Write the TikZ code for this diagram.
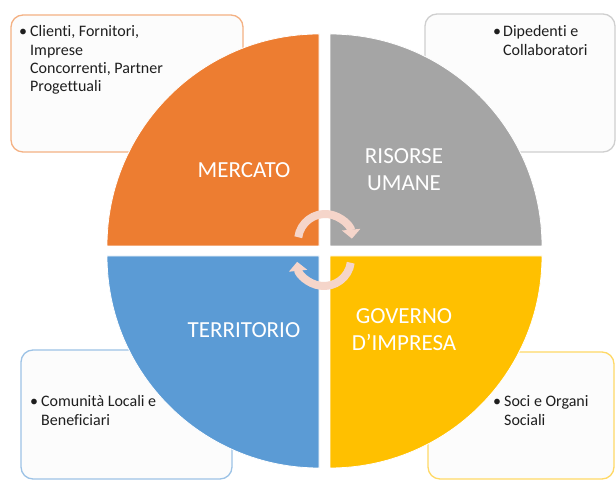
\documentclass[tikz,border=0pt]{standalone}
\usepackage{fontspec}
\setmainfont{Carlito}[Ligatures=NoCommon]
\usetikzlibrary{arrows.meta}
\definecolor{qorange}{HTML}{ED7D31}
\definecolor{qgray}{HTML}{A5A5A5}
\definecolor{qblue}{HTML}{5B9BD5}
\definecolor{qyellow}{HTML}{FFC000}
\definecolor{borange}{HTML}{F4B183}
\definecolor{bgray}{HTML}{CFCFCF}
\definecolor{bblue}{HTML}{9DC3E6}
\definecolor{byellow}{HTML}{FFD966}
\definecolor{boxfill}{HTML}{FCFCFC}
\definecolor{arrowpink}{HTML}{F5D5CA}
\definecolor{textdark}{HTML}{1E1E1E}
\begin{document}
\begin{tikzpicture}[x=1pt,y=1pt,
  infobox/.style={draw=#1,line width=1.3pt,fill=boxfill,rounded corners=12pt},
  quad/.style={fill=#1,draw=white,line width=0.8pt},
  qlabel/.style={text=white,inner sep=0pt,align=center,font=\fontsize{23}{27}\selectfont},
  btext/.style={text=textdark,inner sep=0pt,anchor=base west,font=\fontsize{16}{18.3}\selectfont},
  bullet/.style={text=textdark,inner sep=0pt,anchor=base,font=\fontsize{16}{18.3}\selectfont},
  cyc/.style={draw=arrowpink,line width=8pt,-{Triangle[width=18pt,length=9pt]}}]
\useasboundingbox (0,0) rectangle (616,481);
\fill[white] (0,0) rectangle (616,481);
% info boxes
\draw[infobox=borange] (11,466) rectangle (243,329);
\draw[infobox=bgray] (425,467) rectangle (615,329);
\draw[infobox=bblue] (21,131) rectangle (232,2);
\draw[infobox=byellow] (428,129) rectangle (614,2);
% box texts
\node[bullet] (b1) at (23,444) {•};
\node[btext] (t1) at (30,444) {\begin{tabular}[t]{@{}l@{}}Clienti, Fornitori,\\Imprese\\Concorrenti, Partner\\Progettuali\end{tabular}};
\node[bullet] (b2) at (497,444) {•};
\node[btext] (t2) at (503,444) {\begin{tabular}[t]{@{}l@{}}Dipedenti e\\Collaboratori\end{tabular}};
\node[bullet] (b3) at (34,74) {•};
\node[btext] (t3) at (41,74) {\begin{tabular}[t]{@{}l@{}}Comunità Locali e\\Beneficiari\end{tabular}};
\node[bullet] (b4) at (497,74) {•};
\node[btext] (t4) at (504,74) {\begin{tabular}[t]{@{}l@{}}Soci e Organi\\Sociali\end{tabular}};
% quadrants
\path[quad=qorange] (319,235) -- ++(-212,0) arc[start angle=180,end angle=90,radius=212pt] -- cycle;
\path[quad=qgray] (330,235) -- ++(0,212) arc[start angle=90,end angle=0,radius=212pt] -- cycle;
\path[quad=qblue] (319,225) -- ++(-212,0) arc[start angle=180,end angle=270,radius=212pt] -- cycle;
\path[quad=qyellow] (330,225) -- ++(212,0) arc[start angle=0,end angle=-90,radius=212pt] -- cycle;
% labels
\node[qlabel] (mercato) at (244,311) {MERCATO};
\node[qlabel] (risorse) at (404,311) {RISORSE\\UMANE};
\node[qlabel] (territorio) at (244,151) {TERRITORIO};
\node[qlabel] (governo) at (404,151) {GOVERNO\\D’IMPRESA};
% cycle arrows
\coordinate (cu) at (325,240);
\coordinate (cl) at (324,222);
\draw[cyc] (cu) ++(172:27pt) arc[start angle=172,end angle=5,radius=27pt];
\draw[cyc] (cl) ++(-8:27pt) arc[start angle=-8,end angle=-174,radius=27pt];
\end{tikzpicture}
\end{document}
